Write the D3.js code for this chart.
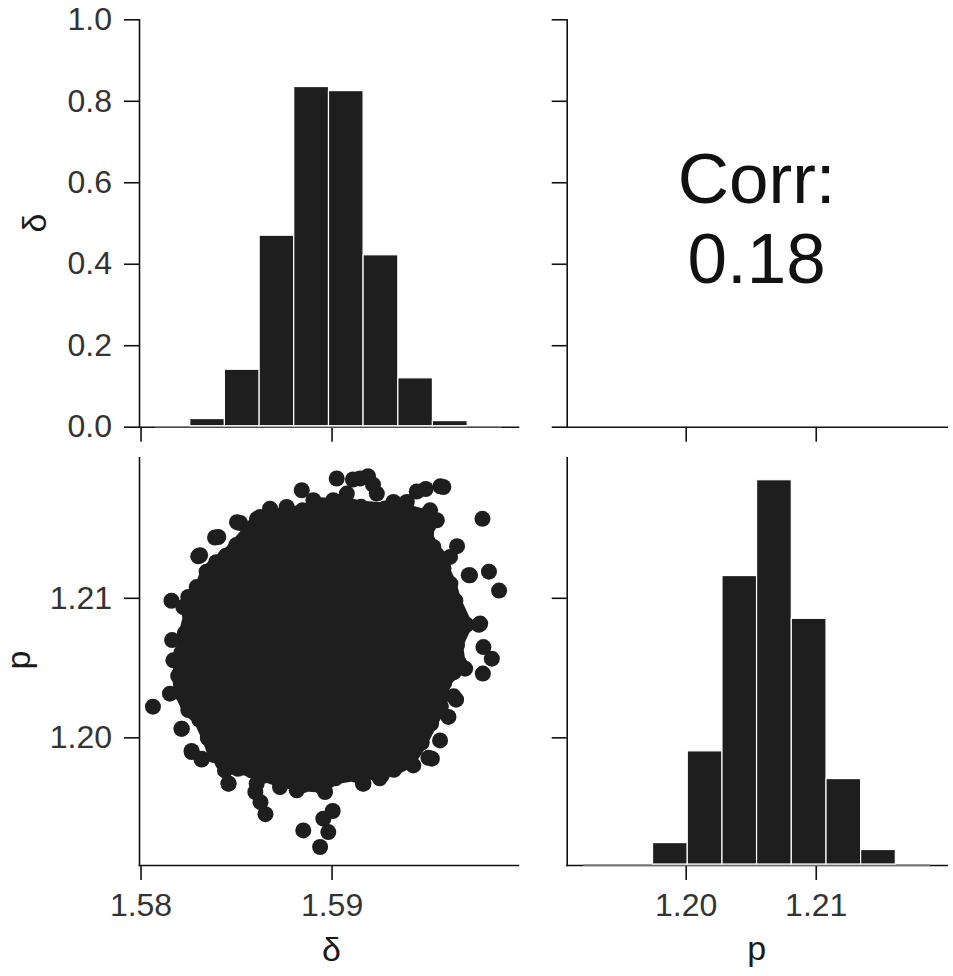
<!DOCTYPE html>
<html>
<head>
<meta charset="utf-8">
<script src="https://cdn.jsdelivr.net/npm/d3@7"></script>
<style>
  body { margin: 0; background: #fff; }
  svg { display: block; font-family: "Liberation Sans", Arial, Helvetica, sans-serif; }
  .axis .domain { stroke: #111; stroke-width: 1.6; stroke-linecap: square; }
  .axis .tick line { stroke: #111; stroke-width: 1.6; }
  .axis .tick text { fill: #333; font-size: 32px; }
  .title { fill: #1a1a1a; font-size: 34px; }
</style>
</head>
<body>
<div id="chart"></div>
<script>
// ---- data ----

// delta histogram (top left): bin edges and heights on the 0..1 axis
const deltaEdges = [1.58076, 1.58258, 1.58439, 1.58621, 1.58802, 1.58984,
                    1.59165, 1.59347, 1.59528, 1.59710, 1.59891];
const deltaHeights = [0, 0.020, 0.141, 0.470, 0.835, 0.825, 0.422, 0.120, 0.015, 0];

// p histogram (bottom right): bin edges and heights as share of panel height
const pEdges = [1.19212, 1.19479, 1.19745, 1.20012, 1.20279, 1.20545,
                1.20812, 1.21079, 1.21345, 1.21612, 1.21879];
const pHeights = [0, 0, 0.055, 0.280, 0.710, 0.945, 0.605, 0.212, 0.038, 0];

// scatter (bottom left): points on the rim of the dense cloud [delta, p]
const cloudRim = [
  [1.58610, 1.21566], [1.58681, 1.21603], [1.58760, 1.21603], [1.58848, 1.21627],
  [1.58953, 1.21664], [1.59041, 1.21689], [1.59155, 1.21652], [1.59279, 1.21640],
  [1.59393, 1.21627], [1.59490, 1.21591], [1.59507, 1.21517], [1.59502, 1.21407],
  [1.59551, 1.21309], [1.59586, 1.21211], [1.59622, 1.21101], [1.59648, 1.20979],
  [1.59706, 1.20807], [1.59657, 1.20661], [1.59671, 1.20526], [1.59639, 1.20465],
  [1.59590, 1.20391], [1.59572, 1.20220], [1.59521, 1.20098], [1.59472, 1.19963],
  [1.59407, 1.19824], [1.59326, 1.19767], [1.59229, 1.19743], [1.59126, 1.19731],
  [1.59020, 1.19706], [1.58950, 1.19645], [1.58851, 1.19657], [1.58733, 1.19682],
  [1.58649, 1.19726], [1.58580, 1.19763], [1.58510, 1.19775], [1.58429, 1.19821],
  [1.58385, 1.19873], [1.58352, 1.19995], [1.58308, 1.20127], [1.58250, 1.20196],
  [1.58206, 1.20323], [1.58197, 1.20440], [1.58214, 1.20607], [1.58232, 1.20746],
  [1.58257, 1.20886], [1.58281, 1.20979], [1.58313, 1.21072], [1.58346, 1.21187],
  [1.58396, 1.21255], [1.58447, 1.21302], [1.58501, 1.21378], [1.58566, 1.21481]
];

// scatter: single points that make the bumpy edge of the cloud [delta, p]
const cloudBumps = [
  [1.58216, 1.20062], [1.58268, 1.19895], [1.58320, 1.19847], [1.58442, 1.19763],
  [1.58460, 1.19668], [1.58608, 1.19668], [1.58730, 1.19644], [1.58818, 1.19620],
  [1.58966, 1.19608], [1.59167, 1.19668], [1.59263, 1.19728], [1.59428, 1.19799],
  [1.59525, 1.19847], [1.59568, 1.19978], [1.59612, 1.20146], [1.59652, 1.20270],
  [1.59699, 1.20492], [1.58172, 1.20552], [1.58154, 1.20313], [1.58312, 1.21305],
  [1.58407, 1.21436], [1.58521, 1.21536], [1.58626, 1.21579], [1.58678, 1.21639],
  [1.58765, 1.21651], [1.58905, 1.21699], [1.59009, 1.21699], [1.59080, 1.21747],
  [1.59237, 1.21747], [1.59324, 1.21687], [1.59394, 1.21687], [1.59516, 1.21627],
  [1.59551, 1.21556], [1.59533, 1.21364], [1.59620, 1.21293], [1.59725, 1.21161],
  [1.59778, 1.20815], [1.58224, 1.20934], [1.58250, 1.21006], [1.58294, 1.21077]
];

// scatter: stray points outside the cloud [delta, p]
const strayPoints = [
  [1.58065, 1.20220], [1.58162, 1.20979], [1.58165, 1.20697], [1.58214, 1.20061],
  [1.58267, 1.19902], [1.58320, 1.19841], [1.58461, 1.19669], [1.58601, 1.19608],
  [1.58654, 1.19449], [1.58628, 1.19535], [1.58852, 1.19333], [1.58940, 1.19214],
  [1.58983, 1.19321], [1.58957, 1.19417], [1.59006, 1.19472], [1.59164, 1.19669],
  [1.59252, 1.19706], [1.59507, 1.19853], [1.59792, 1.20457], [1.59839, 1.20564],
  [1.59795, 1.20647], [1.59771, 1.20807], [1.59877, 1.21052], [1.59824, 1.21187],
  [1.59790, 1.21566], [1.59569, 1.21799], [1.59446, 1.21762], [1.59191, 1.21872],
  [1.59112, 1.21848], [1.59027, 1.21855], [1.59149, 1.21855], [1.58844, 1.21771],
  [1.58505, 1.21542], [1.58390, 1.21432], [1.58302, 1.21297], [1.59657, 1.21370],
  [1.59718, 1.21162], [1.59639, 1.20294], [1.59217, 1.21811], [1.59493, 1.21780],
  [1.59585, 1.21794]
];

const corrValue = 0.18;
const deltaTicks = [1.58, 1.59];
const pTicks = [1.20, 1.21];
const densTicks = [0, 0.2, 0.4, 0.6, 0.8, 1.0];

// ---- layout ----
const width = 953, height = 976;
const col = [{ x0: 139, x1: 518 }, { x0: 566.7, x1: 946.7 }];
const row = [{ y0: 19.3, y1: 426.7 }, { y0: 457.3, y1: 865 }];
const ink = "#1e1e1e";

const svg = d3.select("#chart").append("svg")
    .attr("width", width)
    .attr("height", height);

// scales
const deltaX = d3.scaleLinear().domain([1.57992, 1.59976]).range([col[0].x0, col[0].x1]);
const pX = d3.scaleLinear().domain([1.19085, 1.22007]).range([col[1].x0, col[1].x1]);
const pY = d3.scaleLinear().domain([1.19085, 1.22007]).range([row[1].y1, row[1].y0]);
const densTop = d3.scaleLinear().domain([0, 1]).range([row[0].y1, row[0].y0]);
const densBottom = d3.scaleLinear().domain([0, 1]).range([row[1].y1, row[1].y0]);

function leftAxis(scale, ticks, x, labels) {
  const ax = d3.axisLeft(scale).tickValues(ticks).tickSize(15).tickSizeOuter(0).tickPadding(12);
  ax.tickFormat(labels ? labels : () => "");
  svg.append("g").attr("class", "axis")
      .attr("transform", "translate(" + x + ",0)")
      .call(ax);
}

function bottomAxis(scale, ticks, y, labels) {
  const ax = d3.axisBottom(scale).tickValues(ticks).tickSize(15).tickSizeOuter(0).tickPadding(13);
  ax.tickFormat(labels ? labels : () => "");
  svg.append("g").attr("class", "axis")
      .attr("transform", "translate(0," + y + ")")
      .call(ax);
}

// histogram bars with the pale baseline across the bin range
function histogram(xScale, yScale, edges, heights) {
  const bins = heights.map((h, i) => ({ x0: edges[i], x1: edges[i + 1], h: h }));
  const g = svg.append("g");
  g.append("line")
      .attr("x1", xScale(edges[0]))
      .attr("x2", xScale(edges[edges.length - 1]))
      .attr("y1", yScale(0))
      .attr("y2", yScale(0))
      .attr("stroke", "#8a8a8a")
      .attr("stroke-width", 1.6);
  g.selectAll("rect")
    .data(bins.filter(d => d.h > 0))
    .enter()
    .append("rect")
      .attr("x", d => xScale(d.x0))
      .attr("width", d => xScale(d.x1) - xScale(d.x0))
      .attr("y", d => yScale(d.h))
      .attr("height", d => yScale(0) - yScale(d.h) - 1)
      .attr("fill", ink)
      .attr("stroke", "#fff")
      .attr("stroke-width", 1.2);
}

// top left: delta histogram
leftAxis(densTop, densTicks, col[0].x0, d3.format(".1f"));
bottomAxis(deltaX, deltaTicks, row[0].y1, null);
histogram(deltaX, densTop, deltaEdges, deltaHeights);

// top right: correlation text
leftAxis(densTop, densTicks, col[1].x0, null);
bottomAxis(pX, pTicks, row[0].y1, null);
const cx = (col[1].x0 + col[1].x1) / 2;
svg.append("text")
    .attr("x", cx).attr("y", 202.5)
    .attr("text-anchor", "middle")
    .attr("font-size", 71)
    .attr("fill", "#111")
    .text("Corr:");
svg.append("text")
    .attr("x", cx).attr("y", 282.5)
    .attr("text-anchor", "middle")
    .attr("font-size", 71)
    .attr("fill", "#111")
    .text(d3.format(".2f")(corrValue));

// bottom left: scatter
leftAxis(pY, pTicks, col[0].x0, d3.format(".2f"));
bottomAxis(deltaX, deltaTicks, row[1].y1, d3.format(".2f"));

const rim = d3.line()
    .x(d => deltaX(d[0]))
    .y(d => pY(d[1]))
    .curve(d3.curveLinearClosed);

svg.append("path")
    .attr("d", rim(cloudRim))
    .attr("fill", ink)
    .attr("stroke", ink)
    .attr("stroke-width", 12)
    .attr("stroke-linejoin", "round");

svg.append("g")
  .selectAll("circle")
  .data(cloudRim.concat(cloudBumps, strayPoints))
  .enter()
  .append("circle")
    .attr("cx", d => deltaX(d[0]))
    .attr("cy", d => pY(d[1]))
    .attr("r", 8)
    .attr("fill", ink);

// bottom right: p histogram
leftAxis(pY, pTicks, col[1].x0, null);
bottomAxis(pX, pTicks, row[1].y1, d3.format(".2f"));
histogram(pX, densBottom, pEdges, pHeights);

// axis titles
svg.append("text").attr("class", "title")
    .attr("transform", "translate(46,223) rotate(-90)")
    .attr("text-anchor", "middle")
    .text("δ");
svg.append("text").attr("class", "title")
    .attr("transform", "translate(30,660) rotate(-90)")
    .attr("text-anchor", "middle")
    .text("p");
svg.append("text").attr("class", "title")
    .attr("x", deltaX(1.59)).attr("y", 961)
    .attr("text-anchor", "middle")
    .text("δ");
svg.append("text").attr("class", "title")
    .attr("x", cx).attr("y", 960)
    .attr("text-anchor", "middle")
    .text("p");
</script>
</body>
</html>
